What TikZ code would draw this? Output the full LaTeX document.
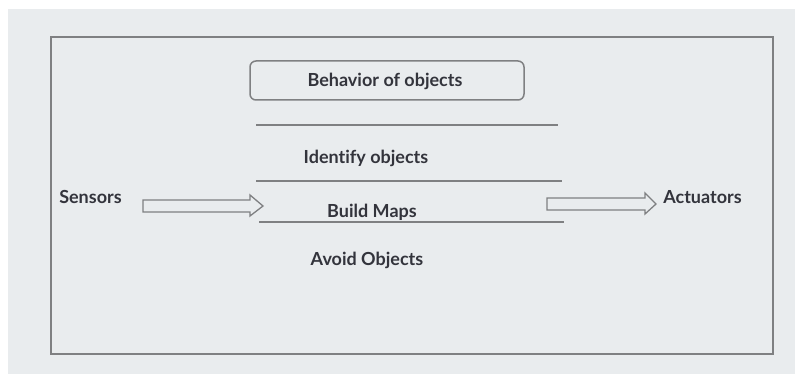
\documentclass[tikz,border=0pt]{standalone}
\usepackage{fontspec}
\setmainfont{Lato}[Ligatures=NoCommon]
\definecolor{bgc}{HTML}{E9ECEE}
\definecolor{linec}{HTML}{7F8082}
\definecolor{txtc}{HTML}{33343C}
\tikzset{
  lbl/.style={font=\bfseries\fontsize{18}{21}\selectfont, text=txtc, inner sep=0pt},
  rule/.style={draw=linec, line width=1.6pt},
  fatarrow/.style={draw=linec, line width=1.3pt, fill=bgc, line join=miter},
}
\begin{document}
\begin{tikzpicture}[x=1pt,y=-1pt]
\useasboundingbox (0,0) rectangle (795,374);
\fill[white] (0,0) rectangle (795,374);
\fill[bgc] (8,9) rectangle (795,374);
\draw[linec, line width=1.8pt] (51,37) rectangle (773,354);
\node[draw=linec, line width=1.5pt, rounded corners=6pt, minimum width=274pt, minimum height=39pt, inner sep=0pt] (beh) at (387,80.5) {};
\node[lbl] (behtxt) at (385,81.5) {Behavior of objects};
\coordinate (l1a) at (256,125); \coordinate (l1b) at (558,125);
\coordinate (l2a) at (256,181); \coordinate (l2b) at (562,181);
\coordinate (l3a) at (259,222); \coordinate (l3b) at (564,222);
\draw[rule] (l1a) -- (l1b);
\draw[rule] (l2a) -- (l2b);
\draw[rule] (l3a) -- (l3b);
\node[lbl] (ident) at (366,158.5) {Identify objects};
\node[lbl] (build) at (372,212) {Build Maps};
\node[lbl] (avoid) at (367,260) {Avoid Objects};
\node[lbl] (sens) at (90.5,197) {Sensors};
\node[lbl] (act) at (702.5,197) {Actuators};
% hollow arrows
\draw[fatarrow] (143,200) -- (250,200) -- (250,195) -- (263,206) -- (250,216) -- (250,212) -- (143,212) -- cycle;
\draw[fatarrow] (547,198) -- (645,198) -- (645,193) -- (656,204) -- (645,214) -- (645,210) -- (547,210) -- cycle;
\end{tikzpicture}
\end{document}
